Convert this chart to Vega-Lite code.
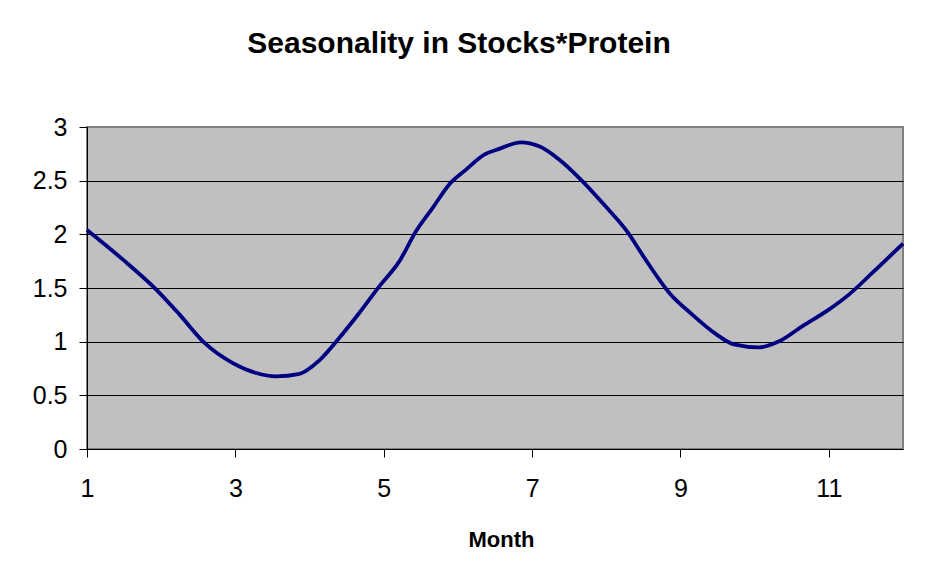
{
  "$schema": "https://vega.github.io/schema/vega-lite/v6.json",
  "width": 816,
  "height": 322,
  "autosize": {"type": "none"},
  "padding": {"left": 87, "top": 127, "right": 27, "bottom": 129},
  "background": "white",
  "title": {
    "text": "Seasonality in Stocks*Protein",
    "font": "Liberation Sans",
    "fontSize": 30,
    "fontWeight": "bold",
    "color": "black",
    "anchor": "middle",
    "dx": -36,
    "offset": 56
  },
  "data": {
    "values": [
      {"month": 1.0, "value": 2.04},
      {"month": 1.485, "value": 1.764},
      {"month": 1.934, "value": 1.485},
      {"month": 2.248, "value": 1.252},
      {"month": 2.585, "value": 0.988},
      {"month": 2.966, "value": 0.8},
      {"month": 3.28, "value": 0.708},
      {"month": 3.55, "value": 0.677},
      {"month": 3.864, "value": 0.7},
      {"month": 4.13, "value": 0.824},
      {"month": 4.4, "value": 1.034},
      {"month": 4.67, "value": 1.267},
      {"month": 4.94, "value": 1.515},
      {"month": 5.21, "value": 1.748},
      {"month": 5.435, "value": 2.028},
      {"month": 5.66, "value": 2.246},
      {"month": 5.88, "value": 2.463},
      {"month": 6.11, "value": 2.603},
      {"month": 6.355, "value": 2.743},
      {"month": 6.557, "value": 2.796},
      {"month": 6.85, "value": 2.857},
      {"month": 7.095, "value": 2.82},
      {"month": 7.36, "value": 2.7},
      {"month": 7.68, "value": 2.494},
      {"month": 7.99, "value": 2.261},
      {"month": 8.28, "value": 2.028},
      {"month": 8.53, "value": 1.764},
      {"month": 8.85, "value": 1.454},
      {"month": 9.16, "value": 1.252},
      {"month": 9.47, "value": 1.075},
      {"month": 9.72, "value": 0.975},
      {"month": 10.06, "value": 0.947},
      {"month": 10.33, "value": 1.003},
      {"month": 10.64, "value": 1.143},
      {"month": 11.0, "value": 1.298},
      {"month": 11.27, "value": 1.438},
      {"month": 11.585, "value": 1.64},
      {"month": 12.0, "value": 1.913}
    ]
  },
  "mark": {"type": "line", "color": "#000080", "strokeWidth": 3.8, "interpolate": "monotone", "clip": false},
  "encoding": {
    "x": {
      "field": "month",
      "type": "quantitative",
      "scale": {"domain": [1, 12], "nice": false, "zero": false},
      "axis": {
        "values": [1, 3, 5, 7, 9, 11],
        "format": "~g",
        "title": "Month",
        "grid": false,
        "labelFlush": false,
        "labelFont": "Liberation Sans",
        "labelFontSize": 25,
        "labelColor": "black",
        "labelPadding": 19,
        "labelAngle": 0,
        "titleFont": "Liberation Sans",
        "titleFontSize": 22,
        "titleFontWeight": "bold",
        "titleColor": "black",
        "titlePadding": 28,
        "titleX": 414
      }
    },
    "y": {
      "field": "value",
      "type": "quantitative",
      "scale": {"domain": [0, 3], "nice": false},
      "axis": {
        "values": [0, 0.5, 1, 1.5, 2, 2.5, 3],
        "format": "~g",
        "title": null,
        "grid": true,
        "labelFlush": false,
        "labelFont": "Liberation Sans",
        "labelFontSize": 25,
        "labelColor": "black",
        "labelPadding": 12,
        "gridColor": {"condition": {"test": "datum.value == 3 || datum.value == 0", "value": "#808080"}, "value": "black"},
        "gridOpacity": 1,
        "gridWidth": 1
      }
    }
  },
  "config": {
    "view": {"fill": "#C0C0C0", "stroke": "#808080", "strokeWidth": 2},
    "axis": {
      "domainColor": "black",
      "domainWidth": 1,
      "tickColor": "black",
      "tickSize": 8,
      "tickWidth": 1
    }
  }
}
